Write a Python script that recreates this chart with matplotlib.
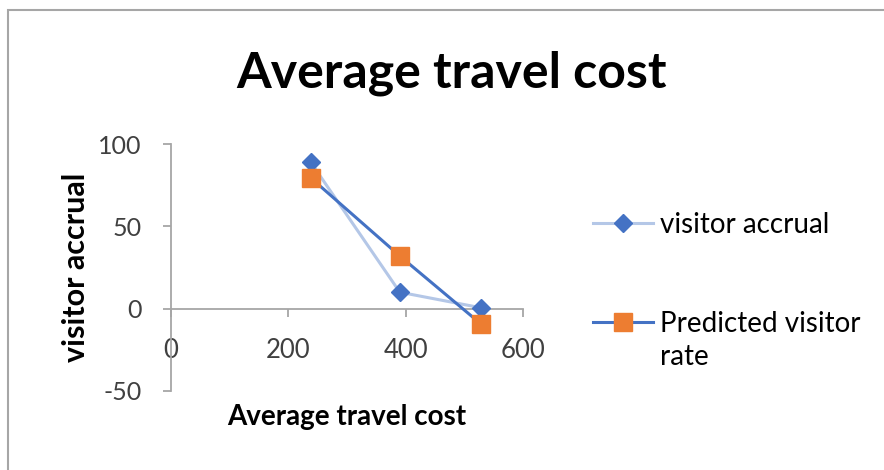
import matplotlib.pyplot as plt
from matplotlib.patches import Rectangle

# --- data ---
travel_cost = [238, 390, 529]
visitor_accrual = [89, 10, 0.5]
predicted_rate = [79.5, 32, -9.5]

y_ticks = [-50, 0, 50, 100]
x_ticks = [0, 200, 400, 600]

plt.rcParams['font.family'] = ['Lato', 'DejaVu Sans']
plt.rcParams['axes.unicode_minus'] = False

fig = plt.figure(figsize=(8.84, 4.70), dpi=100)
ax = fig.add_axes([171 / 884, 1 - 391 / 470, 352 / 884, 247 / 470])

# outer chart frame (only left / top visible in the crop)
fig.patches.append(Rectangle((8 / 884, -0.1), 1.2, 1 - 10 / 470 + 0.1,
                             transform=fig.transFigure, fill=False,
                             edgecolor='#a6a6a6', linewidth=1.5))

ax.plot(travel_cost, visitor_accrual, color='#b4c7e7', linewidth=2.2,
        marker='D', markersize=9.5, markerfacecolor='#4472c4',
        markeredgecolor='#4472c4', label='visitor accrual', zorder=3)
ax.plot(travel_cost, predicted_rate, color='#4472c4', linewidth=2.2,
        marker='s', markersize=13.5, markerfacecolor='#ed7d31',
        markeredgecolor='#ed7d31', label='Predicted visitor', zorder=4)

ax.set_xlim(0, 600)
ax.set_ylim(-50, 100)
ax.set_xticks(x_ticks)
ax.set_yticks(y_ticks)

for s in ['top', 'right']:
    ax.spines[s].set_visible(False)
ax.spines['bottom'].set_position(('data', 0))
for s in ['left', 'bottom']:
    ax.spines[s].set_color('#a6a6a6')
    ax.spines[s].set_linewidth(1.3)

ax.tick_params(axis='x', direction='out', length=6, width=1.3, color='#a6a6a6',
               labelsize=18.5, labelcolor='#404040', pad=15)
ax.tick_params(axis='y', direction='out', length=6, width=1.3, color='#a6a6a6',
               labelsize=18, labelcolor='#404040', pad=15)

ax.set_xlabel('Average travel cost', fontsize=20, fontweight='bold', labelpad=30)
ax.set_ylabel('visitor accrual', fontsize=22, fontweight='bold', labelpad=6)

fig.text(452 / 884, 1 - 73 / 470, 'Average travel cost', fontsize=36,
         fontweight='bold', ha='center', va='center')

leg = fig.legend(loc='upper left', bbox_to_anchor=(593 / 884, 1 - 212 / 470),
                 frameon=False, fontsize=20, handlelength=2.15,
                 handletextpad=0.25, labelspacing=2.63, borderpad=0,
                 borderaxespad=0)
fig.text(660 / 884, 1 - 357 / 470, 'rate', fontsize=20, ha='left', va='center')

fig.savefig('out.png', dpi=100)
